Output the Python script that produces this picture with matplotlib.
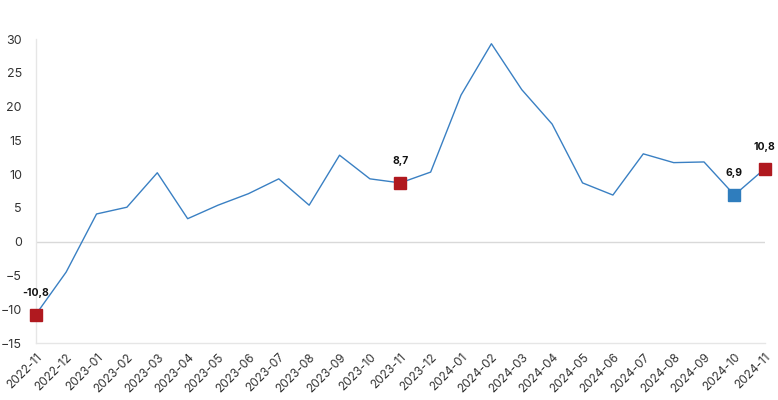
import matplotlib
matplotlib.use("Agg")
import matplotlib.pyplot as plt

plt.rcParams['font.family'] = ['Inter', 'DejaVu Sans']

months = ["2022-11", "2022-12", "2023-01", "2023-02", "2023-03", "2023-04",
          "2023-05", "2023-06", "2023-07", "2023-08", "2023-09", "2023-10",
          "2023-11", "2023-12", "2024-01", "2024-02", "2024-03", "2024-04",
          "2024-05", "2024-06", "2024-07", "2024-08", "2024-09", "2024-10",
          "2024-11"]
values = [-10.8, -4.5, 4.1, 5.1, 10.2, 3.4, 5.4, 7.1, 9.3, 5.4, 12.8, 9.3,
          8.7, 10.3, 21.7, 29.3, 22.5, 17.4, 8.7, 6.9, 13.0, 11.7, 11.8,
          6.9, 10.8]

# highlighted points: (index, colour, label)
marks_idx = [0, 12, 23, 24]
marks_col = ["#b0191f", "#b0191f", "#2f7dbd", "#b0191f"]
marks_lbl = ["-10,8", "8,7", "6,9", "10,8"]

fig = plt.figure(figsize=(7.78, 4.0), dpi=100)
ax = fig.add_axes([0.046, 0.1425, 0.937, 0.76])

x = list(range(len(months)))
ax.plot(x, values, color="#3a80c3", lw=1.0, zorder=2)
ax.axhline(0, color="#d9d9d9", lw=1.0, zorder=1)

for i, c, lbl in zip(marks_idx, marks_col, marks_lbl):
    ax.plot(x[i], values[i], marker="s", ms=9, color=c, mec=c, zorder=3,
            clip_on=False)
    ax.annotate(lbl, (x[i], values[i]), xytext=(0, 12),
                textcoords="offset points", ha="center", va="bottom",
                fontsize=7.5, fontweight="bold", color="#111111",
                annotation_clip=False)

ax.set_xlim(0, len(months) - 1)
ax.set_ylim(-15, 30)
ax.set_yticks(range(-15, 31, 5))
ax.set_xticks(x)
ax.set_xticklabels(months, rotation=45, ha="right", rotation_mode="anchor")
ax.tick_params(axis="x", labelsize=8.5, length=0, pad=6, colors="#333333")
ax.tick_params(axis="y", labelsize=9, length=0, pad=10, colors="#333333")

for s in ["top", "right"]:
    ax.spines[s].set_visible(False)
for s in ["left", "bottom"]:
    ax.spines[s].set_color("#e6e6e6")
    ax.spines[s].set_linewidth(1.0)

fig.savefig("out.png", dpi=100)
